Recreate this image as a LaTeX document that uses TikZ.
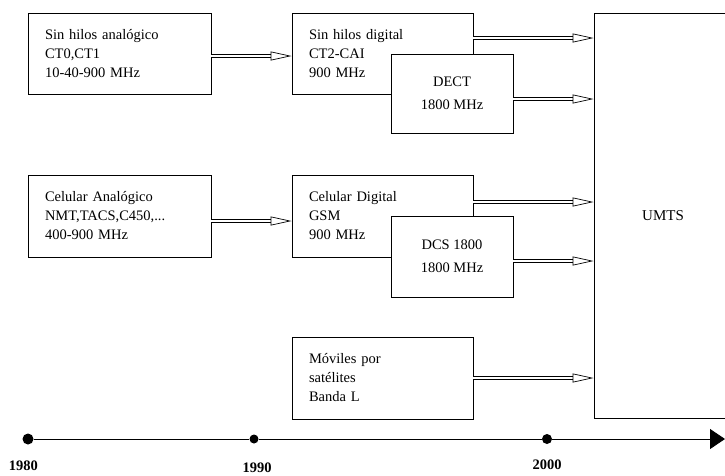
\documentclass[tikz,border=0pt]{standalone}
\usepackage{fontspec}
\setmainfont{Liberation Serif}
\usetikzlibrary{arrows.meta, positioning, calc}

\tikzset{
  caja/.style={draw, fill=white, line width=0.9pt, inner xsep=17pt, inner ysep=0pt,
    align=left, font=\fontsize{14.5}{19}\selectfont},
  cajac/.style={draw, fill=white, line width=0.9pt, inner sep=0pt, align=center,
    minimum width=122pt, font=\fontsize{14.5}{23}\selectfont},
  tubo/.style={double, double distance=2.6pt, line width=0.7pt,
    -{Triangle[open, length=21pt, width=9pt]}},
  hito/.style={circle, fill=black, inner sep=0pt, minimum size=#1},
  anio/.style={font=\fontsize{14.5}{17}\selectfont\bfseries}
}

\begin{document}
\begin{tikzpicture}[x=1pt, y=-1pt]
  \useasboundingbox (0,0) rectangle (725,475);
  % columna 1980
  \node[caja, text width=149pt, minimum height=81pt] (sinan) at (119.5,53.5) {Sin hilos analógico\\CT0,CT1\\10-40-900 MHz};
  \node[caja, text width=149pt, minimum height=82pt] (celan) at (119.5,216) {Celular Analógico\\NMT,TACS,C450,...\\400-900 MHz};
  % columna 1990
  \node[caja, text width=147pt, minimum height=81pt] (sindig) at (382.5,53.5) {Sin hilos digital\\CT2-CAI\\900 MHz};
  \node[cajac, minimum height=79pt] (dect) at (452,93.5) {DECT\\1800 MHz};
  \node[caja, text width=147pt, minimum height=82pt] (celdig) at (382.5,216) {Celular Digital\\GSM\\900 MHz};
  \node[cajac, minimum height=81pt] (dcs) at (452,256.5) {DCS 1800\\1800 MHz};
  \node[caja, text width=147pt, minimum height=82pt] (movsat) at (382.5,378) {Móviles por\\satélites\\Banda L};
  % UMTS
  \node[draw, line width=0.9pt, minimum width=138pt, minimum height=405pt, inner sep=0pt,
    font=\fontsize{15}{18}\selectfont] (umts) at (663,215.5) {UMTS};

  \draw[tubo] ([yshift=-2.5pt]sinan.east) -- ([yshift=-2.5pt]sindig.west);
  \draw[tubo] ([yshift=-5pt]celan.east) -- ([yshift=-5pt]celdig.west);
  \draw[tubo] ([yshift=15.5pt]sindig.east) -- ([yshift=15.5pt]sindig.east -| umts.west);
  \draw[tubo] ([yshift=-5.5pt]dect.east) -- ([yshift=-5.5pt]dect.east -| umts.west);
  \draw[tubo] ([yshift=14pt]celdig.east) -- ([yshift=14pt]celdig.east -| umts.west);
  \draw[tubo] ([yshift=-4.5pt]dcs.east) -- ([yshift=-4.5pt]dcs.east -| umts.west);
  \draw[tubo] (movsat.east) -- (movsat.east -| umts.west);

  % eje de tiempo
  \node[hito=11pt] (t80) at (28,439) {};
  \node[hito=9pt] (t90) at (254,439) {};
  \node[hito=10pt] (t00) at (547,439) {};
  \coordinate (tfin) at (725,439);
  \draw[line width=0.9pt, -{Triangle[length=15pt, width=20pt]}] (t80) -- (t90) -- (t00) -- (tfin);
  \node[anio] (a80) at (23.5,466) {1980};
  \node[anio] (a90) at (257,467.5) {1990};
  \node[anio] (a00) at (547,465) {2000};
\end{tikzpicture}
\end{document}
